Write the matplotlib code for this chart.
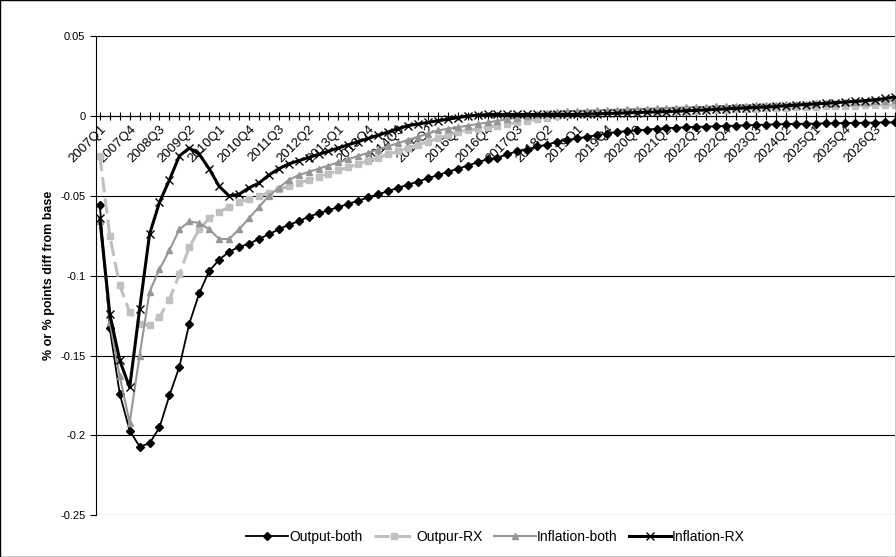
import matplotlib.pyplot as plt
import matplotlib as mpl

mpl.rc('font', family='Liberation Sans', size=8)

quarters = ['%dQ%d' % (y, q) for y in range(2007, 2028) for q in range(1, 5)][:81]

output_both = [-0.056, -0.133, -0.174, -0.197, -0.207, -0.205, -0.195, -0.175, -0.157, -0.130,
               -0.111, -0.097, -0.090, -0.085, -0.082, -0.080, -0.077, -0.074, -0.071, -0.068,
               -0.066, -0.063, -0.061, -0.059, -0.057, -0.055, -0.053, -0.051, -0.049, -0.047,
               -0.045, -0.043, -0.041, -0.039, -0.037, -0.035, -0.033, -0.031, -0.029, -0.027,
               -0.026, -0.024, -0.022, -0.021, -0.019, -0.018, -0.016, -0.015, -0.014, -0.013,
               -0.012, -0.011, -0.010, -0.0095, -0.009, -0.0085, -0.0080, -0.0076, -0.0073, -0.0070,
               -0.0068, -0.0066, -0.0064, -0.0062, -0.0060, -0.0058, -0.0056, -0.0054, -0.0052, -0.0050,
               -0.0049, -0.0048, -0.0047, -0.0046, -0.0045, -0.0044, -0.0043, -0.0042, -0.0041, -0.0040,
               -0.0040]

outpur_rx = [-0.025, -0.075, -0.106, -0.123, -0.130, -0.131, -0.126, -0.115, -0.099, -0.082,
             -0.071, -0.064, -0.060, -0.057, -0.054, -0.052, -0.050, -0.048, -0.046, -0.044,
             -0.042, -0.040, -0.038, -0.036, -0.034, -0.032, -0.030, -0.028, -0.026, -0.024,
             -0.022, -0.020, -0.018, -0.016, -0.014, -0.012, -0.010, -0.009, -0.008, -0.007,
             -0.006, -0.005, -0.004, -0.003, -0.002, -0.001, 0.000, 0.0005, 0.001, 0.0012,
             0.0014, 0.0016, 0.0018, 0.0020, 0.0022, 0.0024, 0.0026, 0.0028, 0.0030, 0.0032,
             0.0034, 0.0036, 0.0038, 0.0040, 0.0042, 0.0044, 0.0046, 0.0048, 0.0050, 0.0052,
             0.0054, 0.0056, 0.0058, 0.0060, 0.0062, 0.0064, 0.0066, 0.0067, 0.0068, 0.0069,
             0.0070]

inflation_both = [-0.066, -0.129, -0.163, -0.192, -0.150, -0.110, -0.096, -0.084, -0.071, -0.066,
                  -0.067, -0.071, -0.077, -0.077, -0.071, -0.064, -0.057, -0.050, -0.045, -0.040,
                  -0.037, -0.035, -0.033, -0.031, -0.029, -0.027, -0.025, -0.023, -0.021, -0.019,
                  -0.017, -0.015, -0.013, -0.011, -0.009, -0.008, -0.007, -0.006, -0.005, -0.004,
                  -0.003, -0.002, -0.001, 0.000, 0.001, 0.002, 0.0025, 0.003, 0.0032, 0.0034,
                  0.0036, 0.0038, 0.0040, 0.0042, 0.0044, 0.0046, 0.0048, 0.0050, 0.0052, 0.0054,
                  0.0056, 0.0058, 0.0060, 0.0062, 0.0064, 0.0066, 0.0068, 0.0070, 0.0072, 0.0074,
                  0.0076, 0.0078, 0.0080, 0.0082, 0.0084, 0.0086, 0.0088, 0.0090, 0.0093, 0.0096,
                  0.0100]

inflation_rx = [-0.064, -0.124, -0.153, -0.170, -0.121, -0.074, -0.054, -0.040, -0.025, -0.020,
                -0.024, -0.033, -0.044, -0.050, -0.049, -0.045, -0.042, -0.037, -0.033, -0.030,
                -0.028, -0.026, -0.024, -0.022, -0.020, -0.018, -0.016, -0.014, -0.012, -0.010,
                -0.008, -0.006, -0.005, -0.004, -0.003, -0.002, -0.001, 0.000, 0.0005, 0.001,
                0.001, 0.001, 0.001, 0.001, 0.001, 0.001, 0.001, 0.001, 0.001, 0.0012,
                0.0014, 0.0016, 0.0018, 0.0020, 0.0022, 0.0024, 0.0026, 0.0028, 0.0030, 0.0033,
                0.0036, 0.0039, 0.0042, 0.0045, 0.0048, 0.0051, 0.0054, 0.0057, 0.0060, 0.0064,
                0.0068, 0.0072, 0.0076, 0.0080, 0.0084, 0.0088, 0.0092, 0.0097, 0.0102, 0.0110,
                0.0120]

x = list(range(len(quarters)))

fig = plt.figure(figsize=(8.96, 5.57), dpi=100)
ax = fig.add_axes([0.107, 0.075, 0.892, 0.86])

ax.plot(x, output_both, '-', color='black', marker='D', markersize=4, lw=1.3, label='Output-both')
ax.plot(x, outpur_rx, '--', color='#c0c0c0', marker='s', markersize=4, lw=2.2, dashes=(5, 2), label='Outpur-RX')
ax.plot(x, inflation_both, '-', color='#969696', marker='^', markersize=4.5, lw=1.5, label='Inflation-both')
ax.plot(x, inflation_rx, '-', color='black', marker='x', markersize=6, mew=1, lw=2.2, label='Inflation-RX')

ax.set_ylim(-0.25, 0.05)
ax.set_xlim(-0.4, 79.6)
ax.set_yticks([0.05, 0, -0.05, -0.1, -0.15, -0.2, -0.25])
ax.set_yticklabels(['0.05', '0', '-0.05', '-0.1', '-0.15', '-0.2', '-0.25'])
ax.yaxis.grid(True, color='black', lw=0.8)
ax.set_axisbelow(True)
ax.tick_params(axis='y', length=4, direction='out')

ax.spines['bottom'].set_position(('data', 0))
ax.spines['top'].set_visible(False)
ax.spines['right'].set_visible(False)
ax.set_xticks(x)
ax.set_xticklabels([q if i % 3 == 0 else '' for i, q in enumerate(quarters)],
                   rotation=45, ha='right', rotation_mode='anchor', fontsize=9.5)
ax.tick_params(axis='x', direction='inout', length=6, pad=2)

ax.set_ylabel('% or % points diff from base', fontweight='bold', fontsize=9)

ax.legend(loc='upper center', bbox_to_anchor=(0.5, -0.005), ncol=4, frameon=False,
          fontsize=10, handlelength=3, columnspacing=0.8, handletextpad=0.1)

fig.patches.append(plt.Rectangle((0, 0), 1, 1, transform=fig.transFigure, fill=False,
                                 edgecolor='black', lw=1))
fig.savefig('out.png', dpi=100)
